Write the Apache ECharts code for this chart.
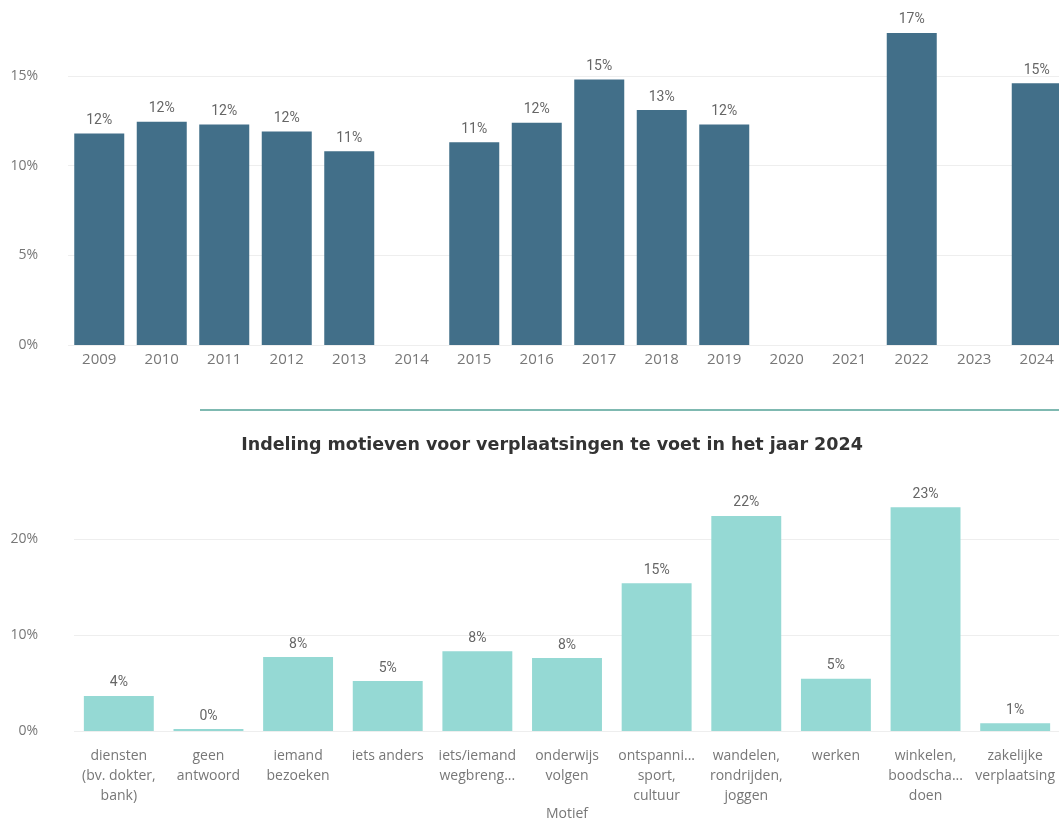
<!DOCTYPE html>
<html>
<head>
<meta charset="utf-8">
<script src="https://cdn.jsdelivr.net/npm/echarts@6/dist/echarts.min.js"></script>
<style>
  html, body { margin: 0; padding: 0; background: #fff; overflow: hidden; }
  #chart { width: 1070px; height: 818px; }
</style>
</head>
<body>
<div id="chart"></div>
<script>
// share of walking trips per year (%)
const years = ["2009","2010","2011","2012","2013","2014","2015","2016","2017","2018","2019","2020","2021","2022","2023","2024"];
const yearShare = [11.8, 12.45, 12.3, 11.9, 10.8, null, 11.3, 12.4, 14.8, 13.1, 12.3, null, null, 17.4, null, 14.6];

// motives 2024 (%)
const motives = [
  "diensten\n(bv. dokter,\nbank)", "geen\nantwoord", "iemand\nbezoeken", "iets anders",
  "iets/iemand\nwegbreng...", "onderwijs\nvolgen", "ontspanni...\nsport,\ncultuur",
  "wandelen,\nrondrijden,\njoggen", "werken", "winkelen,\nboodscha...\ndoen", "zakelijke\nverplaatsing"
];
const motiveShare = [3.65, 0.2, 7.7, 5.2, 8.3, 7.6, 15.4, 22.4, 5.45, 23.3, 0.8];

const pct = v => v + "%";
const axisFont = { color: "#777", fontSize: 14, fontFamily: "Open Sans" };
const dataFont = { color: "#666", fontSize: 14, fontFamily: "Roboto" };

const chart = echarts.init(document.getElementById("chart"));
chart.setOption({
  animation: false,
  title: {
    text: "Indeling motieven voor verplaatsingen te voet in het jaar 2024",
    left: 547, top: 431, textAlign: "center",
    textStyle: { color: "#333", fontSize: 17.5, fontWeight: "bold", fontFamily: "DejaVu Sans" }
  },
  graphic: [{
    type: "line",
    shape: { x1: 200, y1: 410, x2: 1070, y2: 410 },
    style: { stroke: "#7fb9b1", lineWidth: 2 }
  }],
  grid: [
    { left: 68, width: 1000, top: 4.3, height: 340.7, outerBoundsMode: "none" },
    { left: 74, width: 986, top: 491, height: 240, outerBoundsMode: "none" }
  ],
  xAxis: [{
    gridIndex: 0, type: "category", data: years,
    axisLine: { show: false }, axisTick: { show: false },
    axisLabel: Object.assign({ margin: 7 }, axisFont, { fontSize: 15 })
  }, {
    gridIndex: 1, type: "category", data: motives,
    name: "Motief", nameLocation: "middle", nameGap: 76,
    nameTextStyle: { color: "#777", fontSize: 14, fontFamily: "Open Sans" },
    axisLine: { show: false }, axisTick: { show: false },
    axisLabel: Object.assign({ margin: 15, interval: 0, lineHeight: 20 }, axisFont)
  }],
  yAxis: [{
    gridIndex: 0, type: "value", min: 0, max: 19, interval: 5,
    axisLabel: Object.assign({ margin: 30, formatter: pct, showMaxLabel: false }, axisFont),
    splitLine: { lineStyle: { color: "#eeeeee" }, showMaxLine: false }
  }, {
    gridIndex: 1, type: "value", min: 0, max: 25, interval: 10,
    axisLabel: Object.assign({ margin: 36, formatter: pct, showMaxLabel: false }, axisFont),
    splitLine: { lineStyle: { color: "#eeeeee" }, showMaxLine: false }
  }],
  series: [{
    type: "bar", xAxisIndex: 0, yAxisIndex: 0, data: yearShare,
    barCategoryGap: "20%",
    itemStyle: { color: "#426f89" },
    label: Object.assign({ show: true, position: "top", distance: 6,
      formatter: p => Math.round(p.value) + "%" }, dataFont)
  }, {
    type: "bar", xAxisIndex: 1, yAxisIndex: 1, data: motiveShare,
    barCategoryGap: "22%",
    itemStyle: { color: "#95d9d4" },
    label: Object.assign({ show: true, position: "top", distance: 6,
      formatter: p => Math.round(p.value) + "%" }, dataFont)
  }]
});
</script>
</body>
</html>
